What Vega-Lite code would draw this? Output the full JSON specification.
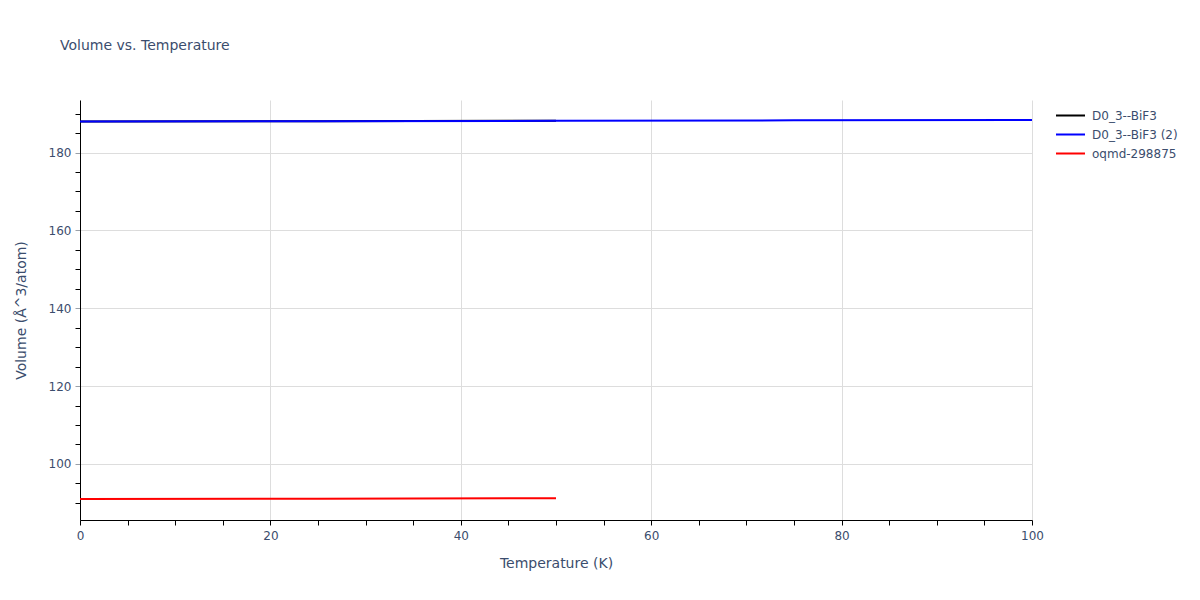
{
  "$schema": "https://vega.github.io/schema/vega-lite/v6.json",
  "autosize": {"type": "none"},
  "width": 952,
  "height": 420,
  "padding": {"left": 80, "top": 100, "right": 168, "bottom": 80},
  "background": "white",
  "title": {
    "text": "Volume vs. Temperature",
    "anchor": "start",
    "frame": "group",
    "dx": -20,
    "offset": 47,
    "fontSize": 14,
    "fontWeight": "normal",
    "font": "DejaVu Sans",
    "color": "#3b4d6d"
  },
  "data": {
    "values": [
      {"series": "D0_3--BiF3", "temperature": 0, "volume": 187.95},
      {"series": "D0_3--BiF3", "temperature": 25, "volume": 188.05},
      {"series": "D0_3--BiF3", "temperature": 50, "volume": 188.17},
      {"series": "D0_3--BiF3 (2)", "temperature": 0, "volume": 187.95},
      {"series": "D0_3--BiF3 (2)", "temperature": 25, "volume": 188.05},
      {"series": "D0_3--BiF3 (2)", "temperature": 50, "volume": 188.15},
      {"series": "D0_3--BiF3 (2)", "temperature": 75, "volume": 188.27},
      {"series": "D0_3--BiF3 (2)", "temperature": 100, "volume": 188.38},
      {"series": "oqmd-298875", "temperature": 0, "volume": 91.0},
      {"series": "oqmd-298875", "temperature": 25, "volume": 91.08},
      {"series": "oqmd-298875", "temperature": 50, "volume": 91.2}
    ]
  },
  "mark": {"type": "line", "strokeWidth": 2},
  "encoding": {
    "x": {
      "field": "temperature",
      "type": "quantitative",
      "title": "Temperature (K)",
      "scale": {"domain": [0, 100], "nice": false, "zero": false},
      "axis": {
        "values": [0, 5, 10, 15, 20, 25, 30, 35, 40, 45, 50, 55, 60, 65, 70, 75, 80, 85, 90, 95, 100],
        "labelExpr": "datum.value % 20 === 0 ? datum.label : ''",
        "gridOpacity": {"condition": {"test": "datum.value % 20 === 0", "value": 1}, "value": 0},
        "gridColor": "#dddddd",
        "domainColor": "#000000",
        "tickColor": "#000000",
        "tickSize": 5,
        "labelPadding": 5,
        "titlePadding": 15,
        "labelFontSize": 12,
        "titleFontSize": 14,
        "titleFontWeight": "normal",
        "labelColor": "#3b4d6d",
        "titleColor": "#3b4d6d",
        "labelFont": "DejaVu Sans",
        "titleFont": "DejaVu Sans"
      }
    },
    "y": {
      "field": "volume",
      "type": "quantitative",
      "title": "Volume (Å^3/atom)",
      "scale": {"domain": [85.6, 193.5], "nice": false, "zero": false},
      "axis": {
        "values": [90, 95, 100, 105, 110, 115, 120, 125, 130, 135, 140, 145, 150, 155, 160, 165, 170, 175, 180, 185, 190],
        "labelExpr": "datum.value % 20 === 0 ? datum.label : ''",
        "gridOpacity": {"condition": {"test": "datum.value % 20 === 0", "value": 1}, "value": 0},
        "tickColor": {"condition": {"test": "datum.value % 20 === 0", "value": "#9aa0a8"}, "value": "#000000"},
        "gridColor": "#dddddd",
        "domainColor": "#000000",
        "tickSize": 5,
        "labelPadding": 4,
        "titlePadding": 20,
        "labelFontSize": 12,
        "titleFontSize": 14,
        "titleFontWeight": "normal",
        "labelColor": "#3b4d6d",
        "titleColor": "#3b4d6d",
        "labelFont": "DejaVu Sans",
        "titleFont": "DejaVu Sans"
      }
    },
    "color": {
      "field": "series",
      "type": "nominal",
      "scale": {
        "domain": ["D0_3--BiF3", "D0_3--BiF3 (2)", "oqmd-298875"],
        "range": ["#000000", "#0000ff", "#ff0000"]
      },
      "legend": {
        "title": null,
        "orient": "none",
        "legendX": 975,
        "legendY": 8,
        "symbolType": "stroke",
        "symbolSize": 841,
        "symbolStrokeWidth": 2,
        "clipHeight": 15,
        "rowPadding": 4,
        "labelOffset": 6,
        "labelFontSize": 12,
        "labelFont": "DejaVu Sans",
        "labelColor": "#3b4d6d"
      }
    }
  },
  "config": {
    "view": {"stroke": null},
    "axis": {"labelFlush": false}
  }
}
